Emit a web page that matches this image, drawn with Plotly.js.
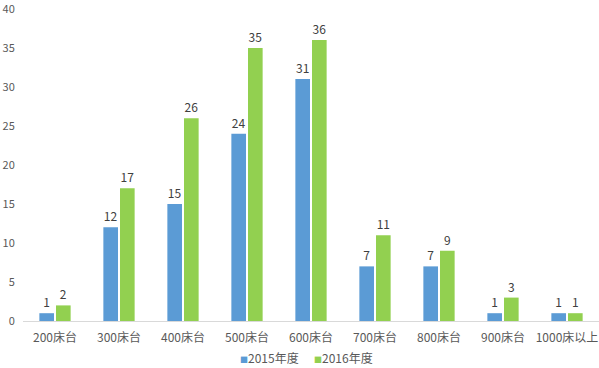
<!DOCTYPE html>
<html><head><meta charset="utf-8">
<script src="https://cdn.plot.ly/plotly-3.0.1.min.js"></script>
<style>body{margin:0;padding:0;background:#fff}#chart{width:599px;height:368px}</style>
</head><body><div id="chart"></div>
<script>
const categories = ["200床台","300床台","400床台","500床台","600床台","700床台","800床台","900床台","1000床以上"];
const series2015 = [1,12,15,24,31,7,7,1,1];
const series2016 = [2,17,26,35,36,11,9,3,1];
const seriesNames = ["2015年度","2016年度"];
const seriesColors = ["#5B9BD5","#92D050"];
const yMax = 40;
const yStep = 5;
const font = "'Noto Sans CJK SC', 'Liberation Sans', sans-serif";
const mk = (name, y, color) => ({
  type: 'bar', name: name, x: categories, y: y,
  marker: {color: color},
  text: y.map(String), textposition: 'outside', cliponaxis: false,
  textfont: {size: 12, color: '#404040', family: font},
  hoverinfo: 'none'
});
const data = [mk(seriesNames[0], series2015, seriesColors[0]), mk(seriesNames[1], series2016, seriesColors[1])];
const legendAnn = seriesNames.map((n, i) => ({
  xref: 'paper', yref: 'paper', x: i === 0 ? 0.483 : 0.501, xanchor: i === 0 ? 'right' : 'left',
  y: -0.115, yanchor: 'middle', showarrow: false,
  text: '<span style="color:' + seriesColors[i] + ';font-size:8px">■</span>' + n,
  font: {size: 12, color: '#595959', family: font}
}));
const layout = {
  width: 599, height: 368,
  margin: {l: 23, r: 0, t: 5, b: 47, autoexpand: false},
  paper_bgcolor: '#fff', plot_bgcolor: '#fff',
  font: {family: font, size: 12, color: '#595959'},
  bargap: 0.48, bargroupgap: 0.12,
  showlegend: false,
  annotations: legendAnn,
  xaxis: {showline: true, linecolor: '#D9D9D9', linewidth: 1, ticks: 'outside', ticklen: 6, tickcolor: 'rgba(0,0,0,0)',
          tickfont: {size: 12, color: '#595959'}, fixedrange: true},
  yaxis: {range: [0, yMax + 0.5], tickmode: 'linear', tick0: 0, dtick: yStep, showgrid: false, zeroline: false, showline: false,
          ticks: 'outside', ticklen: 5, tickcolor: 'rgba(0,0,0,0)', tickfont: {size: 11, color: '#595959'},
          ticklabeloverflow: 'allow', fixedrange: true}
};
Plotly.newPlot('chart', data, layout, {displayModeBar: false, staticPlot: true});
</script></body></html>
